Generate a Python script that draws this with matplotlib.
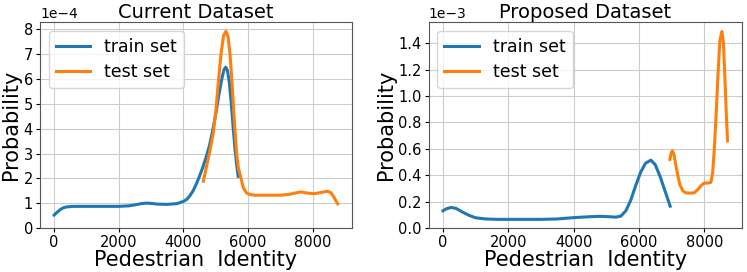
import matplotlib
matplotlib.use('Agg')
import matplotlib.pyplot as plt
import numpy as np

# Current dataset (values in probability)
cur_train_x = [0, 100, 200, 300, 400, 600, 1000, 1500, 2000, 2300, 2500, 2700, 2850, 3000, 3200, 3500,
               3800, 4000, 4100, 4200, 4300, 4400, 4500, 4600, 4700, 4800, 4900, 5000, 5100, 5200,
               5260, 5310, 5360, 5420, 5480, 5540, 5600, 5650, 5692]
cur_train_y = [0.52, 0.64, 0.75, 0.82, 0.85, 0.87, 0.87, 0.87, 0.87, 0.89, 0.93, 0.98, 1.0, 0.99, 0.96, 0.95,
               0.98, 1.07, 1.15, 1.3, 1.5, 1.78, 2.1, 2.45, 2.85, 3.3, 3.9, 4.6, 5.4, 6.1,
               6.4, 6.48, 6.35, 5.85, 5.0, 4.0, 3.1, 2.5, 2.08]
cur_test_x = [4615, 4700, 4800, 4923, 5000, 5080, 5160, 5240, 5314, 5380, 5440, 5500, 5560, 5643,
              5700, 5766, 5850, 5950, 6050, 6200, 6500, 7000, 7300, 7500, 7643, 7800, 8052, 8250,
              8462, 8560, 8650, 8769]
cur_test_y = [1.88, 2.4, 3.0, 3.83, 4.7, 5.9, 7.0, 7.75, 7.93, 7.7, 7.0, 5.9, 4.6, 3.0,
              2.4, 2.08, 1.62, 1.41, 1.35, 1.32, 1.32, 1.32, 1.36, 1.42, 1.45, 1.41, 1.38, 1.43,
              1.48, 1.42, 1.25, 0.97]

# Proposed dataset
pro_train_x = [0, 100, 250, 400, 600, 800, 1000, 1300, 1700, 2000, 2500, 3000, 3500, 4000, 4500,
               4800, 5100, 5300, 5450, 5600, 5750, 5900, 6050, 6200, 6366, 6500, 6650, 6800, 6958]
pro_train_y = [0.13, 0.145, 0.155, 0.148, 0.12, 0.095, 0.077, 0.068, 0.065, 0.065, 0.065, 0.065, 0.068,
               0.078, 0.085, 0.088, 0.085, 0.082, 0.09, 0.13, 0.21, 0.32, 0.42, 0.49, 0.514, 0.48,
               0.39, 0.28, 0.165]
pro_test_x = [6948, 6990, 7029, 7080, 7150, 7250, 7350, 7438, 7550, 7693, 7800, 7900, 8000, 8100,
              8204, 8260, 8310, 8358, 8420, 8480, 8542, 8590, 8640, 8680, 8715]
pro_test_y = [0.52, 0.57, 0.585, 0.55, 0.45, 0.33, 0.28, 0.266, 0.264, 0.266, 0.29, 0.32, 0.34, 0.34,
              0.345, 0.42, 0.6, 0.82, 1.15, 1.42, 1.49, 1.4, 1.1, 0.85, 0.66]

x_ticks = [0, 2000, 4000, 6000, 8000]
cur_y_ticks = [0, 1, 2, 3, 4, 5, 6, 7, 8]          # x 1e-4
pro_y_ticks = [0.0, 0.2, 0.4, 0.6, 0.8, 1.0, 1.2, 1.4]  # x 1e-3

plt.rcParams['font.family'] = 'DejaVu Sans'
fig = plt.figure(figsize=(7.47, 2.72), dpi=100)
ax1 = fig.add_axes([0.0535, 0.162, 0.4175, 0.757])
ax2 = fig.add_axes([0.574, 0.162, 0.419, 0.757])

panels = [
    (ax1, 'Current Dataset', cur_train_x, cur_train_y, cur_test_x, cur_test_y, 1e-4, cur_y_ticks),
    (ax2, 'Proposed Dataset', pro_train_x, pro_train_y, pro_test_x, pro_test_y, 1e-3, pro_y_ticks),
]

for ax, title, tx, ty, sx, sy, scale, yt in panels:
    ax.plot(tx, [v * scale for v in ty], color='#1f77b4', linewidth=2.2, label='train set')
    ax.plot(sx, [v * scale for v in sy], color='#ff7f0e', linewidth=2.2, label='test set')
    ax.set_ylim(bottom=0)
    ax.set_xticks(x_ticks)
    ax.set_yticks([v * scale for v in yt])
    ax.set_title(title, fontsize=14, pad=2)
    ax.set_xlabel('Pedestrian  Identity', fontsize=15, labelpad=0)
    ax.set_ylabel('Probability', fontsize=15, labelpad=2)
    ax.grid(True, color='#cccccc', linewidth=0.8)
    ax.set_axisbelow(True)
    ax.tick_params(labelsize=10.5, length=3, pad=2)
    ax.ticklabel_format(axis='y', style='sci', scilimits=(0, 0))
    ax.yaxis.get_offset_text().set_fontsize(10)
    for s in ax.spines.values():
        s.set_color('#555555')
    ax.legend(loc='upper left', fontsize=12.5, handlelength=2.0, borderaxespad=0.5,
              handletextpad=0.8, labelspacing=0.45)

fig.savefig('out.png', dpi=100)
